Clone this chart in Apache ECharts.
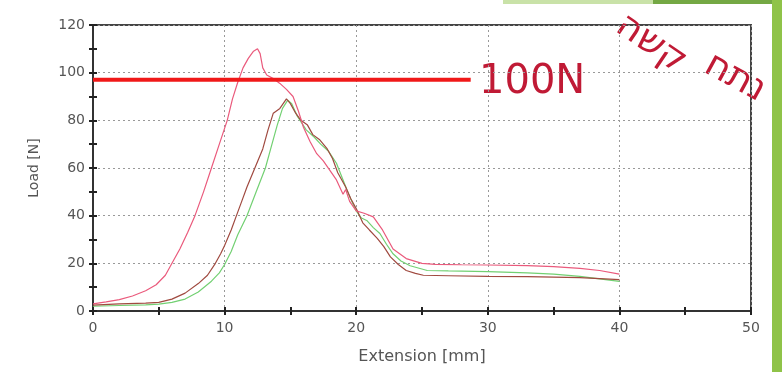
<!DOCTYPE html>
<html><head><meta charset="utf-8">
<script src="https://cdn.jsdelivr.net/npm/echarts@6/dist/echarts.min.js"></script>
<style>html,body{margin:0;padding:0;background:#fff}#c{width:782px;height:372px}</style>
</head><body><div id="c"></div>
<script>
// ---- data ----
const xTicks = [0, 10, 20, 30, 40, 50];
const yTicks = [0, 20, 40, 60, 80, 100, 120];
const pinkX = [0,1,2,3,4,4.8,5.5,6,6.6,7.2,7.75,8.4,9,9.6,10.2,10.6,11,11.4,11.8,12.2,12.5,12.7,12.9,13.2,13.7,14.2,14.7,15.2,15.6,16,16.5,17,17.5,18,18.5,19,19.2,19.5,20,20.6,21.3,22,22.8,23.8,25,26,28,30,33,35,37,38.5,40];
const pinkY = [3,3.8,4.8,6.3,8.5,11,15,20,26,33,40,50,60,70,80,89,96,102,106,109,110,108,102,99,97.5,95.5,93,90,84,77,71,66,63,59,55,49,51,46,42,41,39.5,34,26,22,20,19.6,19.4,19.3,19,18.6,17.9,17,15.5];
const brownX = [0,2,4,5,6,7,8,8.7,9.3,9.7,10,10.5,10.9,11.3,11.7,12.3,12.9,13.3,13.7,14.2,14.7,15,15.4,15.8,16.3,16.7,17.2,17.8,18.2,18.6,19.2,19.6,20,20.5,21,21.6,22.1,22.6,23.2,23.8,24.5,25.1,27,30,33,35,37,38.5,40];
const brownY = [2.5,3,3.3,3.6,5,7.5,11.5,15,20,24,27.5,34,40,46,52,60,68,76,83,85,89,87,83,80,78,74,72,68,64,58,52,47,43,37,34,30.5,27,22.7,19.5,17,15.8,15,14.8,14.5,14.4,14.2,14,13.6,13.2];
const greenX = [0,2,4,5,6,7,8,9,9.6,10,10.5,11,11.7,12.4,13.1,13.6,14,14.4,14.8,15.1,15.5,16.2,16.8,17.3,17.9,18.5,19,19.5,20,20.4,20.8,21.3,21.8,22.3,22.8,23.4,24.1,25.4,27,30,33,35,37,38.5,40];
const greenY = [2,2.3,2.6,2.9,3.6,5,8,12.5,16,19.5,25,32,40,50,60,70,78,85,88.5,87,82,76,73,70,67,62,55,48,42,39,38,35,32.5,28,24,21,19,17,16.8,16.5,16,15.5,14.5,13.5,12.4];
const refX = [0, 28.7];
const refY = [97, 97];
const refLabel = '100N';
const noteWords = ['קשה', 'נתח'];
const xName = 'Extension [mm]';
const yName = 'Load [N]';

function zip(a, b) { return a.map((v, i) => [v, b[i]]); }

const chart = echarts.init(document.getElementById('c'), null, {renderer: 'canvas'});
const lblFont = {fontFamily: 'DejaVu Sans', fontSize: 14, color: '#555'};
const gridLine = {show: true, lineStyle: {color: '#999', type: [2, 3], width: 1}};
const tickStyle = {color: '#222', width: 2};
const option = {
  animation: false,
  backgroundColor: '#fff',
  grid: {left: 93, right: 31, top: 25, bottom: 61, show: true, borderColor: '#444', borderWidth: 2, backgroundColor: '#fff'},
  xAxis: [{
    type: 'value', min: xTicks[0], max: xTicks[xTicks.length - 1], interval: 10,
    name: xName, nameLocation: 'middle', nameGap: 38,
    nameTextStyle: {fontFamily: 'DejaVu Sans', fontSize: 16, color: '#555'},
    axisLine: {show: true, onZero: false, lineStyle: {color: '#333', width: 2}},
    axisTick: {show: true, length: 4, lineStyle: tickStyle},
    minorTick: {show: true, splitNumber: 2, length: 4, lineStyle: tickStyle},
    axisLabel: Object.assign({margin: 10}, lblFont),
    splitLine: gridLine
  }, {
    type: 'value', min: 0, max: 50, interval: 10, position: 'bottom',
    axisLine: {show: false}, axisLabel: {show: false}, splitLine: {show: false},
    axisTick: {show: true, inside: true, length: 4, lineStyle: tickStyle},
    minorTick: {show: true, splitNumber: 2, length: 4, lineStyle: tickStyle}
  }],
  yAxis: [{
    type: 'value', min: yTicks[0], max: yTicks[yTicks.length - 1], interval: 20,
    name: yName, nameLocation: 'middle', nameGap: 52,
    nameTextStyle: {fontFamily: 'DejaVu Sans', fontSize: 14, color: '#555'},
    axisLine: {show: true, onZero: false, lineStyle: {color: '#333', width: 2}},
    axisTick: {show: true, length: 4, lineStyle: tickStyle},
    minorTick: {show: true, splitNumber: 2, length: 4, lineStyle: tickStyle},
    axisLabel: Object.assign({margin: 8}, lblFont),
    splitLine: gridLine
  }, {
    type: 'value', min: 0, max: 120, interval: 20, position: 'left',
    axisLine: {show: false}, axisLabel: {show: false}, splitLine: {show: false},
    axisTick: {show: true, inside: true, length: 4, lineStyle: tickStyle},
    minorTick: {show: true, splitNumber: 2, length: 4, lineStyle: tickStyle}
  }],
  series: [
    {type: 'line', data: zip(greenX, greenY), showSymbol: false, lineStyle: {color: '#72d072', width: 1.2}},
    {type: 'line', data: zip(brownX, brownY), showSymbol: false, lineStyle: {color: '#a04a40', width: 1.2}},
    {type: 'line', data: zip(pinkX, pinkY), showSymbol: false, lineStyle: {color: '#ea5a7c', width: 1.2}},
    {type: 'line', data: zip(refX, refY), showSymbol: false, lineStyle: {color: '#f01818', width: 4}}
  ],
  graphic: [
    {type: 'rect', shape: {x: 772, y: 0, width: 10, height: 372}, style: {fill: '#8fc348'}},
    {type: 'rect', shape: {x: 503, y: 0, width: 150, height: 4}, style: {fill: '#c9e2a8'}},
    {type: 'rect', shape: {x: 653, y: 0, width: 119, height: 4}, style: {fill: '#74a844'}},
    {type: 'text', x: 479, y: 83, style: {text: refLabel, fontFamily: 'DejaVu Sans', fontSize: 40, fill: '#c01a35', textVerticalAlign: 'middle', textAlign: 'left'}},
    {type: 'text', x: 651, y: 44, rotation: -0.6, style: {text: noteWords[0], fontFamily: 'DejaVu Sans', fontSize: 37, fill: '#c01a35', textVerticalAlign: 'middle', textAlign: 'center'}},
    {type: 'text', x: 735, y: 78, rotation: -0.5, style: {text: noteWords[1], fontFamily: 'DejaVu Sans', fontSize: 37, fill: '#c01a35', textVerticalAlign: 'middle', textAlign: 'center'}}
  ]
};
chart.setOption(option);
</script>
</body></html>
